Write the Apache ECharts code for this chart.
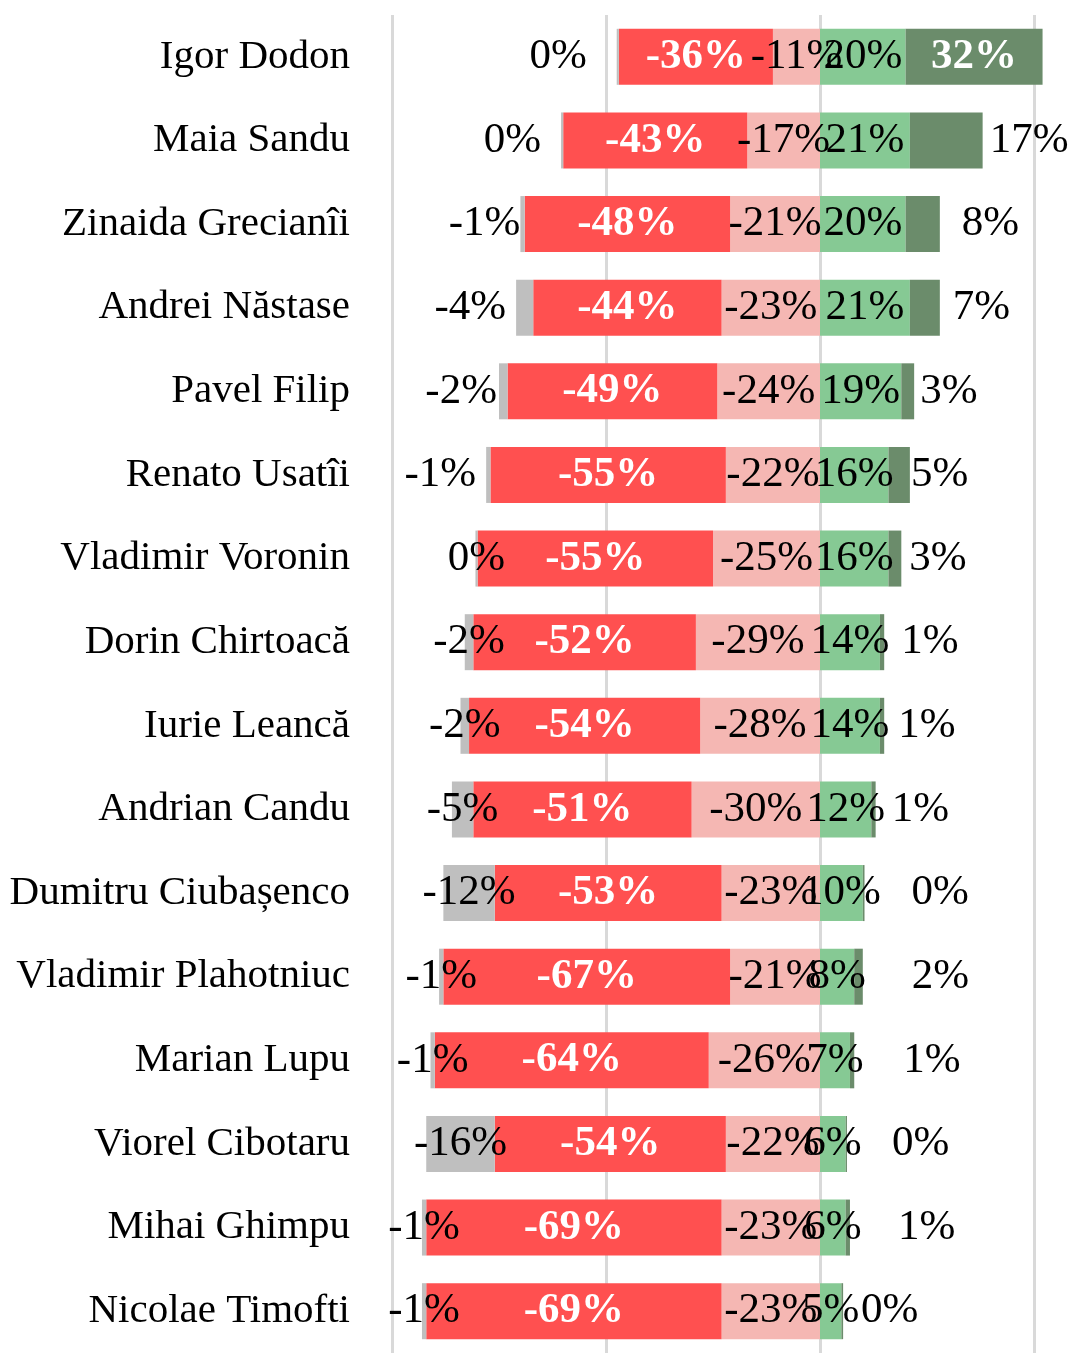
<!DOCTYPE html>
<html>
<head>
<meta charset="utf-8">
<script src="https://cdn.jsdelivr.net/npm/echarts@6/dist/echarts.min.js"></script>
<style>
  html, body { margin: 0; padding: 0; background: #fff; }
  #graph { width: 1072px; height: 1353px; }
</style>
</head>
<body>
<div id="graph"></div>
<script>
var categories = ['Igor Dodon', 'Maia Sandu', 'Zinaida Grecianîi', 'Andrei Năstase', 'Pavel Filip',
    'Renato Usatîi', 'Vladimir Voronin', 'Dorin Chirtoacă', 'Iurie Leancă', 'Andrian Candu',
    'Dumitru Ciubașenco', 'Vladimir Plahotniuc', 'Marian Lupu', 'Viorel Cibotaru', 'Mihai Ghimpu',
    'Nicolae Timofti'];
var greyValues = [-0.5, -0.5, -1, -4, -2, -1, -0.5, -2, -2, -5, -12, -1, -1, -16, -1, -1];
var redValues = [-36, -43, -48, -44, -49, -55, -55, -52, -54, -51, -53, -67, -64, -54, -69, -69];
var pinkValues = [-11, -17, -21, -23, -24, -22, -25, -29, -28, -30, -23, -21, -26, -22, -23, -23];
var lightGreenValues = [20, 21, 20, 21, 19, 16, 16, 14, 14, 12, 10, 8, 7, 6, 6, 5];
var darkGreenValues = [32, 17, 8, 7, 3, 5, 3, 1, 1, 1, 0.4, 2, 1, 0.3, 1, 0.4];

// label gaps (px) as placed in the original, style only
var greyLabelGap = [30, 20, 0, 10, 2, 10];
var darkGreenLabelGap = [0, 7, 22, 13, 6, 1, 8, 17, 14, 16, 47, 49, 49, 45, 48, 18];

var FONT = 'Liberation Serif';

var pct = function(p) {
    return Math.round(p.value) + '%';
};

// grey labels sit left of the bar in the upper rows, centered below
var greyData = greyValues.map(function(v, i) {
    return {
        value: v,
        label: i < greyLabelGap.length ? {position: 'left', distance: greyLabelGap[i]} : {position: 'inside'}
    };
});

var darkGreenData = darkGreenValues.map(function(v, i) {
    if (i === 0) {
        return {value: v, label: {position: 'inside', color: '#fff', fontWeight: 'bold'}};
    }
    return {value: v, label: {position: 'right', distance: darkGreenLabelGap[i]}};
});

var baseLabel = {
    show: true,
    formatter: pct,
    fontFamily: FONT,
    fontSize: 43,
    color: '#000'
};

var option = {
    animation: false,
    textStyle: {fontFamily: FONT},
    grid: {left: 392, right: 38, top: 15, height: 1345},
    xAxis: {
        type: 'value',
        min: -100,
        max: 50,
        interval: 50,
        axisLabel: {show: false},
        axisLine: {show: false},
        axisTick: {show: false},
        splitLine: {lineStyle: {color: '#d9d9d9', width: 3}}
    },
    yAxis: {
        type: 'category',
        inverse: true,
        data: categories,
        axisLine: {show: false},
        axisTick: {show: false},
        axisLabel: {fontFamily: FONT, fontSize: 41, color: '#000', margin: 42}
    },
    series: [{
        name: 'pink',
        type: 'bar',
        stack: 'total',
        barWidth: 56,
        clip: false,
        data: pinkValues,
        itemStyle: {color: '#f5b7b3'},
        label: Object.assign({}, baseLabel, {position: 'inside'})
    }, {
        name: 'red',
        type: 'bar',
        stack: 'total',
        clip: false,
        data: redValues,
        itemStyle: {color: '#ff5050'},
        label: Object.assign({}, baseLabel, {position: 'inside', color: '#fff', fontWeight: 'bold'})
    }, {
        name: 'grey',
        type: 'bar',
        stack: 'total',
        clip: false,
        data: greyData,
        itemStyle: {color: '#bfbfbf'},
        label: Object.assign({}, baseLabel)
    }, {
        name: 'lightgreen',
        type: 'bar',
        stack: 'total',
        clip: false,
        data: lightGreenValues,
        itemStyle: {color: '#86c994'},
        label: Object.assign({}, baseLabel, {position: 'inside'})
    }, {
        name: 'darkgreen',
        type: 'bar',
        stack: 'total',
        clip: false,
        data: darkGreenData,
        itemStyle: {color: '#6b8c6b'},
        label: Object.assign({}, baseLabel)
    }]
};

var chart = echarts.init(document.getElementById('graph'));
chart.setOption(option);
</script>
</body>
</html>
